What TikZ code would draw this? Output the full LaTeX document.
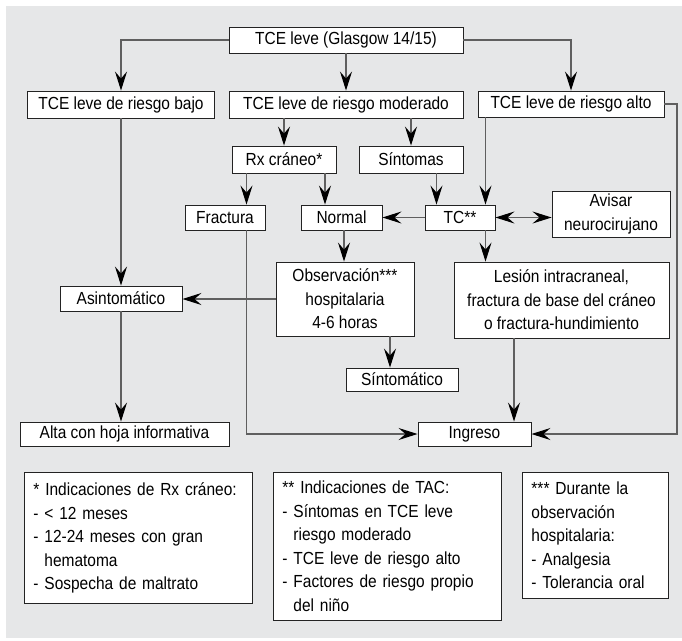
\documentclass[tikz,border=0pt]{standalone}
\usepackage{fontspec}
\setmainfont{Liberation Sans}[FakeStretch=0.885]
\usetikzlibrary{arrows.meta}
\definecolor{panel}{RGB}{230,231,232}
\definecolor{wire}{RGB}{95,95,95}
\definecolor{frame}{RGB}{35,35,35}
\newcommand\chartfont{\fontsize{17.5}{23.5}\selectfont}
% one unbreakable line of a footnote box
\newcommand\nl[1]{\mbox{#1}}
\begin{document}
\begin{tikzpicture}[x=1pt,y=-1pt,
  box/.style={draw=frame,line width=0.9pt,fill=white,inner sep=0pt,align=center,font=\chartfont},
  note/.style={draw=frame,line width=0.9pt,fill=white,inner xsep=9pt,inner ysep=8pt,align=left,anchor=north west,font=\chartfont},
  tip/.tip={Stealth[length=19pt,width=12pt,inset=7pt,color=black]},
  arr/.style={draw=wire,line width=1.1pt,-tip},
  arrboth/.style={draw=wire,line width=1.1pt,tip-tip},
]
\useasboundingbox (0,0) rectangle (682,640);
\fill[panel] (6,6) rectangle (682,638);

% flowchart boxes
\node[box,minimum width=234pt,minimum height=26pt] (top) at (346,40) {TCE leve (Glasgow 14/15)};
\node[box,minimum width=187pt,minimum height=27pt] (bajo) at (121,104.5) {TCE leve de riesgo bajo};
\node[box,minimum width=234pt,minimum height=27pt] (moderado) at (346,104.5) {TCE leve de riesgo moderado};
\node[box,minimum width=186pt,minimum height=26pt] (alto) at (571,104) {TCE leve de riesgo alto};
\node[box,minimum width=104pt,minimum height=27pt] (rx) at (284,159.5) {Rx cráneo*};
\node[box,minimum width=104pt,minimum height=27pt] (sintomas) at (411,159.5) {Síntomas};
\node[box,minimum width=80pt,minimum height=25pt] (fractura) at (225,217.5) {Fractura};
\node[box,minimum width=81pt,minimum height=25pt] (normal) at (341.5,217.5) {Normal};
\node[box,minimum width=70pt,minimum height=25pt] (tc) at (460,217.5) {TC**};
\node[box,minimum width=118pt,minimum height=46pt] (avisar) at (611,214) {Avisar\\neurocirujano};
\node[box,minimum width=122pt,minimum height=25pt] (asint) at (121,298.5) {Asintomático};
\node[box,minimum width=138pt,minimum height=74pt] (obs) at (345,299) {Observación***\\hospitalaria\\4-6 horas};
\node[box,minimum width=215pt,minimum height=76pt] (lesion) at (561.5,300) {Lesión intracraneal,\\fractura de base del cráneo\\o fractura-hundimiento};
\node[box,minimum width=112pt,minimum height=23pt] (sintomatico) at (402,379.5) {Síntomático};
\node[box,minimum width=209pt,minimum height=24pt] (alta) at (124.5,434) {Alta con hoja informativa};
\node[box,minimum width=113pt,minimum height=24pt] (ingreso) at (474.5,434) {Ingreso};

% footnote boxes
\node[note,text width=210pt,minimum height=131pt] (notarx) at (24,472)
  {\nl{* Indicaciones de Rx cráneo:}\\\nl{- < 12 meses}\\\nl{- 12-24 meses con gran}\\\nl{\hphantom{- }hematoma}\\\nl{- Sospecha de maltrato}};
\node[note,text width=210pt,minimum height=148pt] (notatac) at (273,472)
  {\nl{** Indicaciones de TAC:}\\\nl{- Síntomas en TCE leve}\\\nl{\hphantom{- }riesgo moderado}\\\nl{- TCE leve de riesgo alto}\\\nl{- Factores de riesgo propio}\\\nl{\hphantom{- }del niño}};
\node[note,text width=128pt,minimum height=126pt] (notaobs) at (522,472)
  {\nl{*** Durante la}\\\nl{observación}\\\nl{hospitalaria:}\\\nl{- Analgesia}\\\nl{- Tolerancia oral}};

% vertical lanes used by the connectors
\coordinate (xa) at (246.5,0);
\coordinate (xb) at (325,0);
\coordinate (xc) at (436.5,0);
\coordinate (xd) at (485.5,0);
\coordinate (xe) at (344,0);
\coordinate (xf) at (390,0);
\coordinate (xg) at (514,0);
\coordinate (xr) at (677,0);

% connectors
\draw[arr] (top.west) -| (bajo.north);
\draw[arr] (top.south) -- (moderado.north);
\draw[arr] (top.east) -| (alto.north);
\draw[arr] (rx.north |- moderado.south) -- (rx.north);
\draw[arr] (sintomas.north |- moderado.south) -- (sintomas.north);
\draw[arr] (xa |- rx.south) -- (xa |- fractura.north);
\draw[arr] (xb |- rx.south) -- (xb |- normal.north);
\draw[arr] (xc |- sintomas.south) -- (xc |- tc.north);
\draw[arr] (xd |- alto.south) -- (xd |- tc.north);
\draw[arr] (tc.west) -- (normal.east);
\draw[arrboth] (tc.east) -- (tc.east -| avisar.west);
\draw[arr] (xe |- normal.south) -- (xe |- obs.north);
\draw[arr] (obs.west) -- (obs.west -| asint.east);
\draw[arr] (xf |- obs.south) -- (xf |- sintomatico.north);
\draw[arr] (xd |- tc.south) -- (xd |- lesion.north);
\draw[arr] (bajo.south) -- (bajo.south |- asint.north);
\draw[arr] (asint.south) -- (asint.south |- alta.north);
\draw[arr] (xa |- fractura.south) |- (ingreso.west);
\draw[arr] (xg |- lesion.south) -- (xg |- ingreso.north);
\draw[arr] (alto.east) -- (xr |- alto.east) -- (xr |- ingreso.east) -- (ingreso.east);
\end{tikzpicture}
\end{document}
